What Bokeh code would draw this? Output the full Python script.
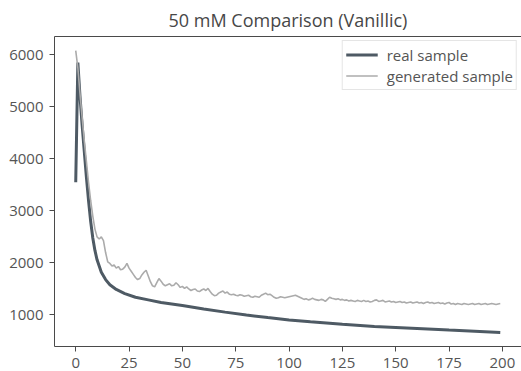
from bokeh.plotting import figure
from bokeh.models import Range1d, FixedTicker, LinearAxis, Legend, LegendItem
from bokeh.embed import file_html
from bokeh.resources import INLINE

title_text = "50 mM Comparison (Vanillic)"
x_ticks = [0, 25, 50, 75, 100, 125, 150, 175, 200]
y_ticks = [1000, 2000, 3000, 4000, 5000, 6000]

real_x = [0, 1, 2, 3, 4, 5, 6, 7, 8, 9, 10, 12, 14, 16, 19, 23, 28, 34, 40,
          50, 60, 70, 80, 90, 100, 110, 125, 140, 150, 175, 199]
real_y = [3550, 5850, 5200, 4650, 4150, 3650, 3200, 2800, 2480, 2240, 2060,
          1820, 1680, 1580, 1490, 1410, 1340, 1290, 1240, 1180, 1115, 1055,
          1000, 950, 905, 870, 820, 780, 760, 710, 665]

gen_y = [
    6080, 5750, 5250, 4800, 4350, 3950, 3550, 3200, 2900, 2650,
    2500, 2460, 2500, 2430, 2200, 2020, 1990, 1940, 1960, 1900,
    1930, 1870, 1880, 1920, 1990, 1900, 1840, 1780, 1720, 1680,
    1700, 1770, 1820, 1860, 1750, 1640, 1560, 1540, 1620, 1700,
    1650, 1590, 1560, 1580, 1600, 1560, 1570, 1620, 1580, 1530,
    1550, 1510, 1540, 1500, 1470, 1490, 1500, 1460, 1450, 1480,
    1500, 1470, 1510, 1450, 1400, 1370, 1380, 1420, 1440, 1460,
    1420, 1440, 1400, 1390, 1400, 1380, 1370, 1390, 1380, 1360,
    1370, 1380, 1350, 1340, 1360, 1350, 1340, 1380, 1400, 1420,
    1390, 1400, 1370, 1340, 1320, 1330, 1350, 1340, 1330, 1340,
    1350, 1360, 1370, 1380, 1360, 1340, 1320, 1300, 1310, 1290,
    1300, 1320, 1300, 1290, 1280, 1300, 1290, 1260, 1300, 1340,
    1320, 1310, 1300, 1310, 1290, 1300, 1280, 1290, 1270, 1280,
    1270, 1260, 1280, 1270, 1260, 1280, 1260, 1270, 1250, 1260,
    1280, 1290, 1260, 1270, 1280, 1250, 1260, 1270, 1250, 1260,
    1240, 1250, 1260, 1240, 1250, 1230, 1240, 1250, 1230, 1240,
    1250, 1230, 1240, 1220, 1240, 1250, 1230, 1240, 1220, 1230,
    1240, 1220, 1230, 1210, 1230, 1240, 1210, 1220, 1200, 1220,
    1210, 1200, 1220, 1210, 1200, 1210, 1220, 1200, 1210, 1220,
    1200, 1210, 1220, 1200, 1210, 1220, 1210, 1200, 1210, 1220,
]
gen_x = list(range(len(gen_y)))

FONT = "Open Sans"
TXT = "#555555"
AX = "#4a4a4a"

xmin, xmax = 0, 199
ymin = min(min(real_y), min(gen_y))
ymax = max(max(real_y), max(gen_y))
xm = 0.05 * (xmax - xmin)
ym = 0.05 * (ymax - ymin)

p = figure(width=521, height=371, output_backend="svg", toolbar_location=None,
           x_range=Range1d(xmin - xm, xmax + xm), y_range=Range1d(ymin - ym, ymax + ym),
           min_border_left=54, min_border_right=0, min_border_top=36, min_border_bottom=25)
p.background_fill_color = "white"
p.border_fill_color = "white"
p.outline_line_color = None
p.grid.visible = False

p.title.text = title_text
p.title.align = "center"
p.title.text_font = FONT
p.title.text_font_size = "18px"
p.title.text_font_style = "normal"
p.title.text_color = "#474747"

for ax in (p.xaxis[0], p.yaxis[0]):
    ax.axis_line_color = AX
    ax.major_tick_line_color = AX
    ax.major_tick_out = 5
    ax.major_tick_in = 0
    ax.minor_tick_line_color = None
    ax.major_label_text_font = FONT
    ax.major_label_text_font_size = "15px"
    ax.major_label_text_color = TXT
p.yaxis[0].major_label_standoff = 6
p.xaxis[0].major_label_standoff = 6
p.xaxis[0].ticker = FixedTicker(ticks=x_ticks)
p.yaxis[0].ticker = FixedTicker(ticks=y_ticks)

top = LinearAxis(ticker=FixedTicker(ticks=[]), axis_line_color=AX,
                 major_tick_out=0, minor_tick_out=0, major_label_text_font_size="0px")
p.add_layout(top, "above")

r_real = p.line(real_x, real_y, line_color="#4e5a64", line_width=3)
r_gen = p.line(gen_x, gen_y, line_color="#ababab", line_width=1.6)

legend = Legend(items=[LegendItem(label="real sample", renderers=[r_real]),
                       LegendItem(label="generated sample", renderers=[r_gen])],
                location="top_right", margin=4, padding=3, spacing=0,
                glyph_width=32, glyph_height=21, label_height=21, label_standoff=9,
                label_text_font=FONT, label_text_font_size="15px", label_text_color=TXT,
                border_line_color="#cccccc", border_line_width=1,
                background_fill_color="white", background_fill_alpha=0.8)
p.add_layout(legend)

open("out.html", "w").write(file_html(p, INLINE))
